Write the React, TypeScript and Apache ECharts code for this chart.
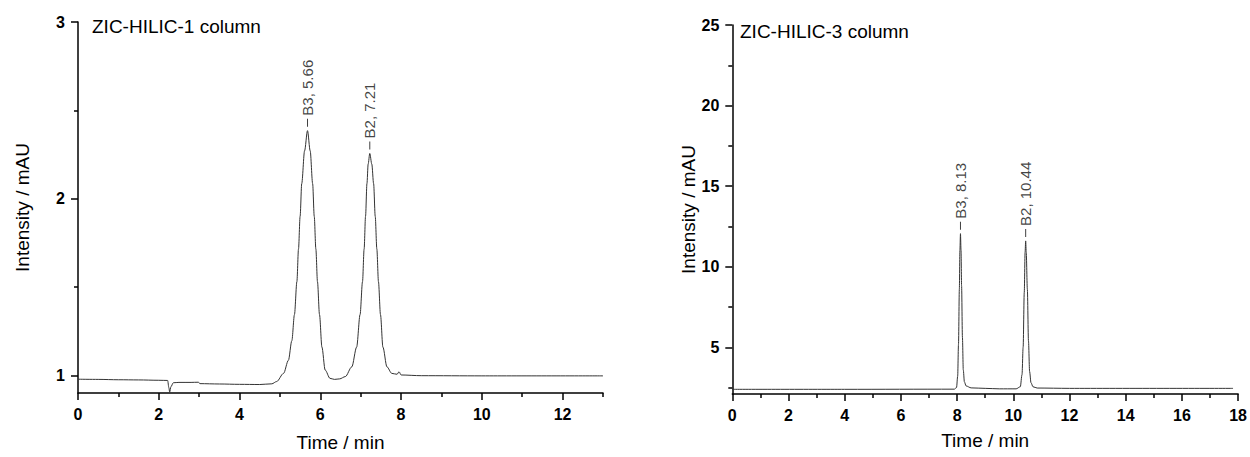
import React, { useEffect, useRef } from "react";
import * as echarts from "echarts";

// ZIC-HILIC-1 column chromatogram
const leftTime = [
  0, 0.5, 1.0, 1.5, 2.0, 2.22, 2.25, 2.27, 2.3, 2.36, 2.5, 2.8, 2.98, 3.02, 3.5, 4.0, 4.5, 4.8, 4.92, 5.09,
  5.21, 5.295, 5.36, 5.42, 5.46, 5.5, 5.54, 5.61, 5.683, 5.75, 5.81, 5.85, 5.89, 5.93, 5.98, 6.04, 6.12,
  6.24, 6.35, 6.48, 6.62, 6.78, 6.9, 6.985, 7.045, 7.085, 7.12, 7.155, 7.185, 7.225, 7.275, 7.32, 7.36,
  7.4, 7.44, 7.49, 7.55, 7.65, 7.77, 7.9, 7.95, 8.0, 8.5, 10, 13,
];
const leftIntensity = [
  0.978, 0.977, 0.975, 0.974, 0.972, 0.971, 0.93, 0.905, 0.935, 0.958, 0.96, 0.96, 0.961, 0.953, 0.951,
  0.949, 0.948, 0.952, 0.965, 1.011, 1.085, 1.196, 1.344, 1.53, 1.715, 1.9, 2.085, 2.27, 2.385, 2.27,
  2.085, 1.9, 1.715, 1.53, 1.344, 1.16, 1.03, 0.983, 0.977, 0.98, 0.993, 1.048, 1.16, 1.344, 1.53, 1.715,
  1.9, 2.085, 2.196, 2.256, 2.196, 2.085, 1.9, 1.715, 1.53, 1.344, 1.16, 1.048, 1.011, 1.006, 1.02, 1.002,
  0.998, 0.997, 0.997,
];

// ZIC-HILIC-3 column chromatogram
const rightTime = [
  0, 4, 7.9, 7.98, 8.02, 8.05, 8.08, 8.1, 8.12, 8.14, 8.16, 8.19, 8.22, 8.26, 8.32, 8.5, 9.0, 9.5, 10.1,
  10.25, 10.31, 10.35, 10.39, 10.42, 10.44, 10.46, 10.5, 10.54, 10.58, 10.63, 10.7, 10.85, 12, 17.82,
];
const rightIntensity = [
  2.39, 2.39, 2.4, 2.5, 3.2, 5.2, 8.6, 11.0, 12.05, 11.0, 8.8, 5.6, 3.6, 2.85, 2.6, 2.48, 2.45, 2.42, 2.42,
  2.55, 3.3, 5.0, 8.4, 10.9, 11.6, 10.9, 8.6, 5.4, 3.5, 2.8, 2.55, 2.47, 2.45, 2.45,
];

const leftPeakNames = ["B3, 5.66", "B2, 7.21"];
const leftPeakTime = [5.683, 7.225];
const leftPeakIntensity = [2.385, 2.256];
const rightPeakNames = ["B3, 8.13", "B2, 10.44"];
const rightPeakTime = [8.12, 10.44];
const rightPeakIntensity = [12.05, 11.6];

const leftXMajor = [0, 2, 4, 6, 8, 10, 12];
const leftXMinor = [1, 3, 5, 7, 9, 11, 13];
const leftYMajor = [1, 2, 3];
const leftYMinor = [1.5, 2.5];
const rightXMajor = [0, 2, 4, 6, 8, 10, 12, 14, 16, 18];
const rightXMinor = [1, 3, 5, 7, 9, 11, 13, 15, 17];
const rightYMajor = [5, 10, 15, 20, 25];
const rightYMinor = [2.5, 7.5, 12.5, 17.5, 22.5];

const FONT = "'Liberation Sans', Arial, Helvetica, sans-serif";
const INK = "#000";
const TRACE = "#333";

function zip(a: number[], b: number[]) {
  return a.map((v, i) => [v, b[i]]);
}

function majorAxis(
  gridIndex: number,
  min: number,
  max: number,
  major: number[],
  dir: "x" | "y",
  extra: any
) {
  return {
    type: "value",
    gridIndex,
    min,
    max,
    position: dir === "x" ? "bottom" : "left",
    splitLine: { show: false },
    axisLine: { show: true, onZero: false, lineStyle: { color: INK, width: 1.5 } },
    axisTick: { show: true, inside: false, length: 7, customValues: major, lineStyle: { color: INK, width: 1.5 } },
    axisLabel: {
      show: true,
      customValues: major,
      color: INK,
      fontWeight: "bold",
      fontSize: 16,
      fontFamily: FONT,
      margin: 13,
    },
    nameTextStyle: { color: INK, fontSize: 19, fontFamily: FONT },
    ...extra,
  };
}

function minorAxis(gridIndex: number, min: number, max: number, minor: number[], dir: "x" | "y") {
  return {
    type: "value",
    gridIndex,
    min,
    max,
    position: dir === "x" ? "bottom" : "left",
    splitLine: { show: false },
    axisLine: { show: false, onZero: false },
    axisTick: { show: true, inside: false, length: 4, customValues: minor, lineStyle: { color: INK, width: 1.5 } },
    axisLabel: { show: false },
  };
}

function peakSeries(names: string[], times: number[], vals: number[], xi: number, yi: number) {
  return {
    type: "scatter",
    xAxisIndex: xi,
    yAxisIndex: yi,
    symbol: "rect",
    symbolSize: [1, 8],
    symbolOffset: [0, -8],
    itemStyle: { color: "#111" },
    silent: true,
    data: names.map((n, i) => ({ name: n, value: [times[i], vals[i]] })),
    label: {
      show: true,
      formatter: "{b}",
      position: "top",
      distance: 3,
      rotate: 90,
      align: "left",
      verticalAlign: "middle",
      color: "#111",
      fontSize: 15,
      fontFamily: FONT,
    },
    z: 5,
  };
}

export default function App() {
  const ref = useRef<HTMLDivElement>(null);
  useEffect(() => {
    if (!ref.current) return;
    const chart = echarts.init(ref.current, undefined, { renderer: "svg" });
    const option: any = {
      animation: false,
      backgroundColor: "#fff",
      title: [
        {
          text: "ZIC-HILIC-1 column",
          left: 92,
          top: 17,
          textStyle: { color: INK, fontSize: 19, fontWeight: "normal", fontFamily: FONT },
          padding: 0,
        },
        {
          text: "ZIC-HILIC-3 column",
          left: 740,
          top: 22,
          textStyle: { color: INK, fontSize: 19, fontWeight: "normal", fontFamily: FONT },
          padding: 0,
        },
      ],
      grid: [
        { left: 78, top: 22, width: 525, height: 378.7 },
        { left: 732.3, top: 25, width: 511.2, height: 369 },
      ],
      xAxis: [
        majorAxis(0, 0, 13, leftXMajor, "x", { name: "Time / min", nameLocation: "middle", nameGap: 40 }),
        minorAxis(0, 0, 13, leftXMinor, "x"),
        majorAxis(1, 0, 18, rightXMajor, "x", { name: "Time / min", nameLocation: "middle", nameGap: 37 }),
        minorAxis(1, 0, 18, rightXMinor, "x"),
      ],
      yAxis: [
        majorAxis(0, 0.9, 3, leftYMajor, "y", { name: "Intensity / mAU", nameLocation: "middle", nameGap: 46 }),
        minorAxis(0, 0.9, 3, leftYMinor, "y"),
        majorAxis(1, 2.1, 25, rightYMajor, "y", { name: "Intensity / mAU", nameLocation: "middle", nameGap: 25 }),
        minorAxis(1, 2.1, 25, rightYMinor, "y"),
      ],
      series: [
        {
          type: "line",
          xAxisIndex: 0,
          yAxisIndex: 0,
          data: zip(leftTime, leftIntensity),
          showSymbol: false,
          smooth: 0.3,
          smoothMonotone: "x",
          lineStyle: { color: TRACE, width: 1 },
          silent: true,
        },
        {
          type: "line",
          xAxisIndex: 2,
          yAxisIndex: 2,
          data: zip(rightTime, rightIntensity),
          showSymbol: false,
          smooth: 0.3,
          smoothMonotone: "x",
          lineStyle: { color: TRACE, width: 1 },
          silent: true,
        },
        peakSeries(leftPeakNames, leftPeakTime, leftPeakIntensity, 0, 0),
        peakSeries(rightPeakNames, rightPeakTime, rightPeakIntensity, 2, 2),
      ],
    };
    chart.setOption(option);
    return () => chart.dispose();
  }, []);
  return (
    <div
      ref={ref}
      style={{ position: "absolute", left: 0, top: 0, width: 1250, height: 457, background: "#fff" }}
    />
  );
}
